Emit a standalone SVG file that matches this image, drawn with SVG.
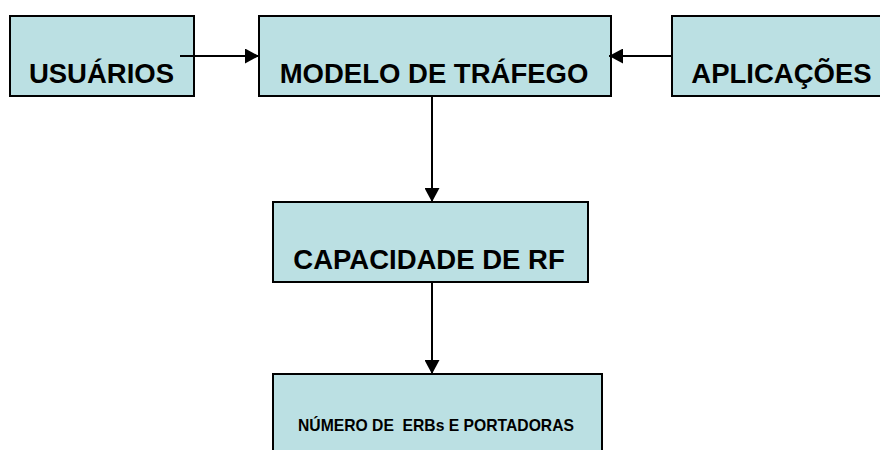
<svg xmlns="http://www.w3.org/2000/svg" width="880" height="450" viewBox="0 0 880 450">
<style>
.box{fill:#BBE0E3;stroke:#000;stroke-width:2}
.lbl{font-family:"Liberation Sans",Arial,sans-serif;font-weight:bold;fill:#000;text-anchor:middle}
.big{font-size:27.5px}
.small{font-size:15.7px}
.conn{stroke:#000;stroke-width:2;fill:none}
</style>
<defs>
<marker id="ah" markerUnits="userSpaceOnUse" markerWidth="15" markerHeight="15" refX="14" refY="7.5" orient="auto">
<path d="M0,0 L14,7.5 L0,15 z" fill="#000"/>
</marker>
</defs>
<rect width="880" height="450" fill="#fff"/>
<g id="usuarios">
<rect class="box" x="10" y="16" width="184" height="80"/>
<text class="lbl big" x="101.5" y="83">USUÁRIOS</text>
</g>
<g id="modelo">
<rect class="box" x="259" y="16" width="352" height="80"/>
<text class="lbl big" x="434" y="83">MODELO DE TRÁFEGO</text>
</g>
<g id="aplicacoes">
<rect class="box" x="672" y="16" width="220" height="80"/>
<text class="lbl big" x="781.5" y="83">APLICAÇÕES</text>
</g>
<g id="capacidade">
<rect class="box" x="273" y="202" width="315" height="80"/>
<text class="lbl big" x="429" y="269">CAPACIDADE DE RF</text>
</g>
<g id="numero">
<rect class="box" x="273" y="374" width="329" height="100"/>
<text class="lbl small" x="436" y="431" xml:space="preserve">NÚMERO DE  ERBs E PORTADORAS</text>
</g>
<g id="connectors">
<line class="conn" x1="180" y1="56" x2="259" y2="56" marker-end="url(#ah)"/>
<line class="conn" x1="672" y1="56" x2="609" y2="56" marker-end="url(#ah)"/>
<line class="conn" x1="432" y1="96" x2="432" y2="202" marker-end="url(#ah)"/>
<line class="conn" x1="432" y1="282" x2="432" y2="374" marker-end="url(#ah)"/>
</g>
</svg>
